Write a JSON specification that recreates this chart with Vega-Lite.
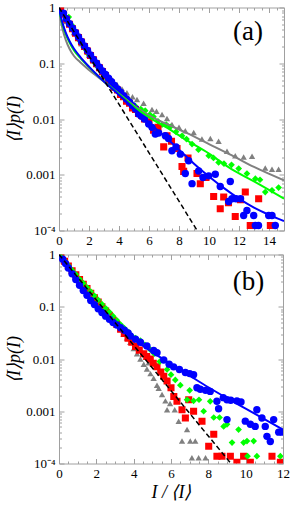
{
"$schema": "https://vega.github.io/schema/vega-lite/v6.json",
"padding": {"left": 5, "top": 0.5, "right": 2, "bottom": 2},
"spacing": -1,
"datasets": {
"pts": [
{"p":"a","s":"gray","x":0.5,"y":0.562},{"p":"a","s":"gray","x":1.0,"y":0.355},{"p":"a","s":"gray","x":1.5,"y":0.224},{"p":"a","s":"gray","x":2.0,"y":0.141},{"p":"a","s":"gray","x":2.5,"y":0.0955},{"p":"a","s":"gray","x":2.9,"y":0.0741},{"p":"a","s":"gray","x":3.2,"y":0.0603},{"p":"a","s":"gray","x":3.55,"y":0.0501},{"p":"a","s":"gray","x":3.87,"y":0.0417},{"p":"a","s":"gray","x":4.2,"y":0.0347},{"p":"a","s":"gray","x":4.53,"y":0.0295},{"p":"a","s":"gray","x":4.9,"y":0.0251},{"p":"a","s":"gray","x":5.2,"y":0.0224},{"p":"a","s":"gray","x":5.64,"y":0.0191},{"p":"a","s":"gray","x":6.2,"y":0.0148},{"p":"a","s":"gray","x":6.5,"y":0.0138},{"p":"a","s":"gray","x":6.87,"y":0.012},{"p":"a","s":"gray","x":7.2,"y":0.0102},{"p":"a","s":"gray","x":7.53,"y":0.00794},{"p":"a","s":"gray","x":8.0,"y":0.00708},{"p":"a","s":"gray","x":8.42,"y":0.00617},{"p":"a","s":"gray","x":8.98,"y":0.00575},{"p":"a","s":"gray","x":9.53,"y":0.00437},{"p":"a","s":"gray","x":10.09,"y":0.00447},{"p":"a","s":"gray","x":10.64,"y":0.00398},{"p":"a","s":"gray","x":11.2,"y":0.00263},{"p":"a","s":"gray","x":11.75,"y":0.00219},{"p":"a","s":"gray","x":12.31,"y":0.00209},{"p":"a","s":"gray","x":12.87,"y":0.00214},{"p":"a","s":"gray","x":13.75,"y":0.00132},{"p":"a","s":"gray","x":14.2,"y":0.00126},{"p":"a","s":"gray","x":14.64,"y":0.00126},
{"p":"a","s":"green","x":0.65,"y":0.676},{"p":"a","s":"green","x":0.9,"y":0.468},{"p":"a","s":"green","x":1.15,"y":0.331},{"p":"a","s":"green","x":1.4,"y":0.251},{"p":"a","s":"green","x":1.65,"y":0.191},{"p":"a","s":"green","x":1.95,"y":0.145},{"p":"a","s":"green","x":2.25,"y":0.11},{"p":"a","s":"green","x":2.6,"y":0.0851},{"p":"a","s":"green","x":2.9,"y":0.0661},{"p":"a","s":"green","x":3.2,"y":0.0525},{"p":"a","s":"green","x":3.5,"y":0.0427},{"p":"a","s":"green","x":3.8,"y":0.0339},{"p":"a","s":"green","x":4.1,"y":0.0282},{"p":"a","s":"green","x":4.4,"y":0.024},{"p":"a","s":"green","x":4.75,"y":0.0204},{"p":"a","s":"green","x":5.1,"y":0.017},{"p":"a","s":"green","x":5.45,"y":0.0151},{"p":"a","s":"green","x":5.75,"y":0.0141},{"p":"a","s":"green","x":6.05,"y":0.012},{"p":"a","s":"green","x":6.3,"y":0.011},{"p":"a","s":"green","x":6.6,"y":0.00912},{"p":"a","s":"green","x":6.87,"y":0.00794},{"p":"a","s":"green","x":7.15,"y":0.00794},{"p":"a","s":"green","x":7.42,"y":0.00724},{"p":"a","s":"green","x":7.8,"y":0.00589},{"p":"a","s":"green","x":8.2,"y":0.00501},{"p":"a","s":"green","x":8.5,"y":0.00437},{"p":"a","s":"green","x":8.87,"y":0.00355},{"p":"a","s":"green","x":9.3,"y":0.00282},{"p":"a","s":"green","x":9.98,"y":0.00219},{"p":"a","s":"green","x":10.3,"y":0.002},{"p":"a","s":"green","x":10.64,"y":0.00166},{"p":"a","s":"green","x":11.0,"y":0.00158},{"p":"a","s":"green","x":11.5,"y":0.00151},{"p":"a","s":"green","x":11.98,"y":0.00129},{"p":"a","s":"green","x":12.53,"y":0.00105},{"p":"a","s":"green","x":13.09,"y":0.000851},{"p":"a","s":"green","x":13.4,"y":0.000813},{"p":"a","s":"green","x":13.75,"y":0.00049},{"p":"a","s":"green","x":14.2,"y":0.000525},{"p":"a","s":"green","x":14.64,"y":0.000589},
{"p":"a","s":"red","x":0.1,"y":0.955},{"p":"a","s":"red","x":0.3,"y":0.759},{"p":"a","s":"red","x":0.5,"y":0.617},{"p":"a","s":"red","x":0.7,"y":0.501},{"p":"a","s":"red","x":0.9,"y":0.417},{"p":"a","s":"red","x":1.1,"y":0.347},{"p":"a","s":"red","x":1.3,"y":0.288},{"p":"a","s":"red","x":1.5,"y":0.24},{"p":"a","s":"red","x":1.7,"y":0.2},{"p":"a","s":"red","x":1.9,"y":0.166},{"p":"a","s":"red","x":2.1,"y":0.138},{"p":"a","s":"red","x":2.3,"y":0.115},{"p":"a","s":"red","x":2.5,"y":0.0977},{"p":"a","s":"red","x":2.7,"y":0.0832},{"p":"a","s":"red","x":2.9,"y":0.0708},{"p":"a","s":"red","x":3.1,"y":0.0603},{"p":"a","s":"red","x":3.3,"y":0.0501},{"p":"a","s":"red","x":3.5,"y":0.0437},{"p":"a","s":"red","x":3.7,"y":0.0372},{"p":"a","s":"red","x":3.9,"y":0.0331},{"p":"a","s":"red","x":4.1,"y":0.0275},{"p":"a","s":"red","x":4.3,"y":0.0251},{"p":"a","s":"red","x":4.5,"y":0.0209},{"p":"a","s":"red","x":4.7,"y":0.0191},{"p":"a","s":"red","x":4.9,"y":0.0158},{"p":"a","s":"red","x":5.1,"y":0.0148},{"p":"a","s":"red","x":5.3,"y":0.0126},{"p":"a","s":"red","x":5.5,"y":0.0117},{"p":"a","s":"red","x":5.7,"y":0.01},{"p":"a","s":"red","x":6.0,"y":0.00891},{"p":"a","s":"red","x":6.3,"y":0.00631},{"p":"a","s":"red","x":6.6,"y":0.00708},{"p":"a","s":"red","x":6.98,"y":0.00316},{"p":"a","s":"red","x":7.2,"y":0.00501},{"p":"a","s":"red","x":7.5,"y":0.00398},{"p":"a","s":"red","x":7.87,"y":0.00295},{"p":"a","s":"red","x":8.2,"y":0.00141},{"p":"a","s":"red","x":8.31,"y":0.00115},{"p":"a","s":"red","x":8.6,"y":0.002},{"p":"a","s":"red","x":9.2,"y":0.00105},{"p":"a","s":"red","x":9.42,"y":0.000692},{"p":"a","s":"red","x":9.8,"y":0.000891},{"p":"a","s":"red","x":10.31,"y":0.000407},{"p":"a","s":"red","x":10.75,"y":0.000245},{"p":"a","s":"red","x":10.98,"y":0.000398},{"p":"a","s":"red","x":11.3,"y":0.000316},{"p":"a","s":"red","x":11.75,"y":0.000178},{"p":"a","s":"red","x":12.1,"y":0.000355},{"p":"a","s":"red","x":12.42,"y":0.00049},{"p":"a","s":"red","x":12.75,"y":0.000123},{"p":"a","s":"red","x":13.31,"y":0.000372},{"p":"a","s":"red","x":14.09,"y":0.000123},
{"p":"a","s":"blue","x":0.3,"y":0.794},{"p":"a","s":"blue","x":0.5,"y":0.631},{"p":"a","s":"blue","x":0.7,"y":0.513},{"p":"a","s":"blue","x":0.9,"y":0.427},{"p":"a","s":"blue","x":1.1,"y":0.355},{"p":"a","s":"blue","x":1.3,"y":0.295},{"p":"a","s":"blue","x":1.5,"y":0.245},{"p":"a","s":"blue","x":1.7,"y":0.204},{"p":"a","s":"blue","x":1.9,"y":0.17},{"p":"a","s":"blue","x":2.1,"y":0.141},{"p":"a","s":"blue","x":2.3,"y":0.117},{"p":"a","s":"blue","x":2.5,"y":0.1},{"p":"a","s":"blue","x":2.7,"y":0.0851},{"p":"a","s":"blue","x":2.9,"y":0.0724},{"p":"a","s":"blue","x":3.1,"y":0.0631},{"p":"a","s":"blue","x":3.3,"y":0.0537},{"p":"a","s":"blue","x":3.5,"y":0.0468},{"p":"a","s":"blue","x":3.7,"y":0.0398},{"p":"a","s":"blue","x":3.9,"y":0.0347},{"p":"a","s":"blue","x":4.1,"y":0.0302},{"p":"a","s":"blue","x":4.3,"y":0.0263},{"p":"a","s":"blue","x":4.5,"y":0.0229},{"p":"a","s":"blue","x":4.7,"y":0.02},{"p":"a","s":"blue","x":4.9,"y":0.0174},{"p":"a","s":"blue","x":5.1,"y":0.0151},{"p":"a","s":"blue","x":5.31,"y":0.0123},{"p":"a","s":"blue","x":5.5,"y":0.0112},{"p":"a","s":"blue","x":5.7,"y":0.01},{"p":"a","s":"blue","x":5.98,"y":0.00813},{"p":"a","s":"blue","x":6.2,"y":0.00708},{"p":"a","s":"blue","x":6.42,"y":0.00537},{"p":"a","s":"blue","x":6.64,"y":0.00562},{"p":"a","s":"blue","x":7.09,"y":0.00501},{"p":"a","s":"blue","x":7.3,"y":0.00447},{"p":"a","s":"blue","x":7.53,"y":0.00269},{"p":"a","s":"blue","x":7.8,"y":0.00316},{"p":"a","s":"blue","x":8.09,"y":0.00234},{"p":"a","s":"blue","x":8.42,"y":0.00105},{"p":"a","s":"blue","x":8.64,"y":0.00178},{"p":"a","s":"blue","x":8.87,"y":0.000692},{"p":"a","s":"blue","x":9.31,"y":0.00117},{"p":"a","s":"blue","x":9.6,"y":0.000891},{"p":"a","s":"blue","x":9.98,"y":0.000955},{"p":"a","s":"blue","x":10.42,"y":0.00102},{"p":"a","s":"blue","x":10.75,"y":0.000617},{"p":"a","s":"blue","x":11.31,"y":0.000331},{"p":"a","s":"blue","x":11.42,"y":0.000759},{"p":"a","s":"blue","x":11.53,"y":0.000372},{"p":"a","s":"blue","x":11.8,"y":0.000372},{"p":"a","s":"blue","x":12.1,"y":0.000372},{"p":"a","s":"blue","x":12.31,"y":0.000186},{"p":"a","s":"blue","x":12.53,"y":0.000229},{"p":"a","s":"blue","x":12.98,"y":0.000186},{"p":"a","s":"blue","x":13.09,"y":0.000123},{"p":"a","s":"blue","x":13.3,"y":0.000123},{"p":"a","s":"blue","x":13.98,"y":0.000186},{"p":"a","s":"blue","x":14.2,"y":0.000186},{"p":"a","s":"blue","x":14.42,"y":0.000123},
{"p":"b","s":"gray","x":0.1,"y":0.891},{"p":"b","s":"gray","x":0.3,"y":0.724},{"p":"b","s":"gray","x":0.5,"y":0.603},{"p":"b","s":"gray","x":0.7,"y":0.49},{"p":"b","s":"gray","x":0.9,"y":0.407},{"p":"b","s":"gray","x":1.1,"y":0.331},{"p":"b","s":"gray","x":1.3,"y":0.275},{"p":"b","s":"gray","x":1.5,"y":0.224},{"p":"b","s":"gray","x":1.7,"y":0.186},{"p":"b","s":"gray","x":1.9,"y":0.151},{"p":"b","s":"gray","x":2.1,"y":0.126},{"p":"b","s":"gray","x":2.3,"y":0.102},{"p":"b","s":"gray","x":2.5,"y":0.0851},{"p":"b","s":"gray","x":2.7,"y":0.0692},{"p":"b","s":"gray","x":2.9,"y":0.0562},{"p":"b","s":"gray","x":3.1,"y":0.0457},{"p":"b","s":"gray","x":3.3,"y":0.0372},{"p":"b","s":"gray","x":3.46,"y":0.0302},{"p":"b","s":"gray","x":3.64,"y":0.0251},{"p":"b","s":"gray","x":3.82,"y":0.0209},{"p":"b","s":"gray","x":4.0,"y":0.0158},{"p":"b","s":"gray","x":4.18,"y":0.0126},{"p":"b","s":"gray","x":4.36,"y":0.01},{"p":"b","s":"gray","x":4.54,"y":0.00794},{"p":"b","s":"gray","x":4.71,"y":0.00646},{"p":"b","s":"gray","x":4.8,"y":0.00851},{"p":"b","s":"gray","x":4.9,"y":0.00525},{"p":"b","s":"gray","x":5.07,"y":0.00427},{"p":"b","s":"gray","x":5.25,"y":0.00316},{"p":"b","s":"gray","x":5.34,"y":0.00275},{"p":"b","s":"gray","x":5.52,"y":0.00209},{"p":"b","s":"gray","x":5.7,"y":0.00158},{"p":"b","s":"gray","x":5.79,"y":0.00107},{"p":"b","s":"gray","x":5.95,"y":0.00141},{"p":"b","s":"gray","x":6.2,"y":0.00107},{"p":"b","s":"gray","x":6.41,"y":0.000646},{"p":"b","s":"gray","x":6.59,"y":0.000269},{"p":"b","s":"gray","x":6.86,"y":0.000447},{"p":"b","s":"gray","x":7.03,"y":0.000269},{"p":"b","s":"gray","x":7.3,"y":0.000269},{"p":"b","s":"gray","x":7.12,"y":0.000129},{"p":"b","s":"gray","x":7.48,"y":0.000129},{"p":"b","s":"gray","x":7.85,"y":0.000129},
{"p":"b","s":"red","x":0.1,"y":0.912},{"p":"b","s":"red","x":0.3,"y":0.741},{"p":"b","s":"red","x":0.5,"y":0.603},{"p":"b","s":"red","x":0.7,"y":0.49},{"p":"b","s":"red","x":0.9,"y":0.407},{"p":"b","s":"red","x":1.1,"y":0.331},{"p":"b","s":"red","x":1.3,"y":0.269},{"p":"b","s":"red","x":1.5,"y":0.224},{"p":"b","s":"red","x":1.7,"y":0.182},{"p":"b","s":"red","x":1.9,"y":0.148},{"p":"b","s":"red","x":2.1,"y":0.123},{"p":"b","s":"red","x":2.3,"y":0.1},{"p":"b","s":"red","x":2.5,"y":0.0832},{"p":"b","s":"red","x":2.7,"y":0.0676},{"p":"b","s":"red","x":2.9,"y":0.055},{"p":"b","s":"red","x":3.1,"y":0.0457},{"p":"b","s":"red","x":3.3,"y":0.0372},{"p":"b","s":"red","x":3.5,"y":0.0309},{"p":"b","s":"red","x":3.7,"y":0.0251},{"p":"b","s":"red","x":3.9,"y":0.0209},{"p":"b","s":"red","x":4.1,"y":0.0174},{"p":"b","s":"red","x":4.3,"y":0.0148},{"p":"b","s":"red","x":4.54,"y":0.0126},{"p":"b","s":"red","x":4.7,"y":0.0112},{"p":"b","s":"red","x":4.89,"y":0.01},{"p":"b","s":"red","x":5.05,"y":0.00832},{"p":"b","s":"red","x":5.25,"y":0.00708},{"p":"b","s":"red","x":5.45,"y":0.00562},{"p":"b","s":"red","x":5.61,"y":0.00468},{"p":"b","s":"red","x":5.79,"y":0.0038},{"p":"b","s":"red","x":6.0,"y":0.00282},{"p":"b","s":"red","x":6.15,"y":0.00191},{"p":"b","s":"red","x":6.32,"y":0.00155},{"p":"b","s":"red","x":6.59,"y":0.00107},{"p":"b","s":"red","x":6.77,"y":0.000741},{"p":"b","s":"red","x":6.95,"y":0.00166},{"p":"b","s":"red","x":7.21,"y":0.001},{"p":"b","s":"red","x":7.66,"y":0.000646},{"p":"b","s":"red","x":8.02,"y":0.000214},{"p":"b","s":"red","x":8.29,"y":0.000363},{"p":"b","s":"red","x":8.46,"y":0.000138},{"p":"b","s":"red","x":8.73,"y":0.000138},{"p":"b","s":"red","x":9.18,"y":0.000138},{"p":"b","s":"red","x":9.53,"y":0.000105},{"p":"b","s":"red","x":9.89,"y":0.000138},{"p":"b","s":"red","x":10.25,"y":0.000105},{"p":"b","s":"red","x":11.41,"y":0.000138},{"p":"b","s":"red","x":11.86,"y":0.000105},
{"p":"b","s":"green","x":0.1,"y":0.912},{"p":"b","s":"green","x":0.3,"y":0.759},{"p":"b","s":"green","x":0.5,"y":0.617},{"p":"b","s":"green","x":0.7,"y":0.501},{"p":"b","s":"green","x":0.9,"y":0.417},{"p":"b","s":"green","x":1.1,"y":0.339},{"p":"b","s":"green","x":1.3,"y":0.282},{"p":"b","s":"green","x":1.5,"y":0.234},{"p":"b","s":"green","x":1.7,"y":0.195},{"p":"b","s":"green","x":1.9,"y":0.162},{"p":"b","s":"green","x":2.1,"y":0.135},{"p":"b","s":"green","x":2.3,"y":0.112},{"p":"b","s":"green","x":2.5,"y":0.0933},{"p":"b","s":"green","x":2.7,"y":0.0794},{"p":"b","s":"green","x":2.9,"y":0.0661},{"p":"b","s":"green","x":3.1,"y":0.055},{"p":"b","s":"green","x":3.3,"y":0.0457},{"p":"b","s":"green","x":3.5,"y":0.0389},{"p":"b","s":"green","x":3.7,"y":0.0331},{"p":"b","s":"green","x":3.9,"y":0.0275},{"p":"b","s":"green","x":4.1,"y":0.0251},{"p":"b","s":"green","x":4.36,"y":0.0224},{"p":"b","s":"green","x":4.6,"y":0.0186},{"p":"b","s":"green","x":4.89,"y":0.0151},{"p":"b","s":"green","x":5.1,"y":0.0126},{"p":"b","s":"green","x":5.4,"y":0.00891},{"p":"b","s":"green","x":5.79,"y":0.00631},{"p":"b","s":"green","x":6.0,"y":0.00501},{"p":"b","s":"green","x":6.23,"y":0.00398},{"p":"b","s":"green","x":6.5,"y":0.00316},{"p":"b","s":"green","x":6.86,"y":0.00166},{"p":"b","s":"green","x":7.0,"y":0.00251},{"p":"b","s":"green","x":7.21,"y":0.00158},{"p":"b","s":"green","x":7.5,"y":0.00166},{"p":"b","s":"green","x":7.75,"y":0.001},{"p":"b","s":"green","x":8.1,"y":0.00155},{"p":"b","s":"green","x":8.29,"y":0.000759},{"p":"b","s":"green","x":8.6,"y":0.000759},{"p":"b","s":"green","x":8.82,"y":0.000513},{"p":"b","s":"green","x":9.0,"y":0.000562},{"p":"b","s":"green","x":9.27,"y":0.000251},{"p":"b","s":"green","x":9.62,"y":0.000447},{"p":"b","s":"green","x":9.89,"y":0.000251},{"p":"b","s":"green","x":10.07,"y":0.000269},{"p":"b","s":"green","x":10.43,"y":0.000269},{"p":"b","s":"green","x":10.1,"y":0.000138},{"p":"b","s":"green","x":10.6,"y":0.000138},{"p":"b","s":"green","x":11.86,"y":0.000138},
{"p":"b","s":"blue","x":0.2,"y":0.813},{"p":"b","s":"blue","x":0.35,"y":0.676},{"p":"b","s":"blue","x":0.5,"y":0.55},{"p":"b","s":"blue","x":0.7,"y":0.427},{"p":"b","s":"blue","x":0.9,"y":0.331},{"p":"b","s":"blue","x":1.1,"y":0.257},{"p":"b","s":"blue","x":1.3,"y":0.204},{"p":"b","s":"blue","x":1.5,"y":0.166},{"p":"b","s":"blue","x":1.7,"y":0.132},{"p":"b","s":"blue","x":1.9,"y":0.11},{"p":"b","s":"blue","x":2.1,"y":0.0912},{"p":"b","s":"blue","x":2.3,"y":0.0776},{"p":"b","s":"blue","x":2.5,"y":0.0661},{"p":"b","s":"blue","x":2.7,"y":0.0575},{"p":"b","s":"blue","x":2.9,"y":0.0501},{"p":"b","s":"blue","x":3.1,"y":0.0447},{"p":"b","s":"blue","x":3.3,"y":0.0398},{"p":"b","s":"blue","x":3.5,"y":0.0355},{"p":"b","s":"blue","x":3.7,"y":0.0316},{"p":"b","s":"blue","x":3.82,"y":0.0275},{"p":"b","s":"blue","x":4.1,"y":0.024},{"p":"b","s":"blue","x":4.36,"y":0.0209},{"p":"b","s":"blue","x":4.71,"y":0.0178},{"p":"b","s":"blue","x":5.07,"y":0.0145},{"p":"b","s":"blue","x":5.25,"y":0.0132},{"p":"b","s":"blue","x":5.61,"y":0.00955},{"p":"b","s":"blue","x":5.9,"y":0.00794},{"p":"b","s":"blue","x":6.14,"y":0.00708},{"p":"b","s":"blue","x":6.45,"y":0.00631},{"p":"b","s":"blue","x":6.77,"y":0.0055},{"p":"b","s":"blue","x":7.0,"y":0.00525},{"p":"b","s":"blue","x":7.21,"y":0.00501},{"p":"b","s":"blue","x":7.39,"y":0.00282},{"p":"b","s":"blue","x":7.57,"y":0.00263},{"p":"b","s":"blue","x":7.85,"y":0.00251},{"p":"b","s":"blue","x":8.1,"y":0.0024},{"p":"b","s":"blue","x":8.46,"y":0.00155},{"p":"b","s":"blue","x":8.55,"y":0.00112},{"p":"b","s":"blue","x":8.8,"y":0.00182},{"p":"b","s":"blue","x":9.0,"y":0.00166},{"p":"b","s":"blue","x":9.2,"y":0.00162},{"p":"b","s":"blue","x":9.53,"y":0.00158},{"p":"b","s":"blue","x":9.75,"y":0.00151},{"p":"b","s":"blue","x":9.0,"y":0.000692},{"p":"b","s":"blue","x":9.98,"y":0.000646},{"p":"b","s":"blue","x":10.25,"y":0.000562},{"p":"b","s":"blue","x":10.51,"y":0.000513},{"p":"b","s":"blue","x":10.6,"y":0.00107},{"p":"b","s":"blue","x":10.87,"y":0.000741},{"p":"b","s":"blue","x":11.05,"y":0.000513},{"p":"b","s":"blue","x":11.14,"y":0.000331},{"p":"b","s":"blue","x":11.32,"y":0.000263},{"p":"b","s":"blue","x":11.5,"y":0.000692},{"p":"b","s":"blue","x":11.77,"y":0.000398},{"p":"b","s":"blue","x":11.95,"y":0.000398}
],
"curves": [
{"p":"a","s":"gray","x":0,"y":1},{"p":"a","s":"gray","x":0.1,"y":0.631},{"p":"a","s":"gray","x":0.25,"y":0.398},{"p":"a","s":"gray","x":0.45,"y":0.263},{"p":"a","s":"gray","x":0.7,"y":0.182},{"p":"a","s":"gray","x":1.0,"y":0.135},{"p":"a","s":"gray","x":1.4,"y":0.105},{"p":"a","s":"gray","x":2.0,"y":0.0759},{"p":"a","s":"gray","x":2.7,"y":0.0537},{"p":"a","s":"gray","x":3.5,"y":0.0363},{"p":"a","s":"gray","x":4.3,"y":0.0245},{"p":"a","s":"gray","x":5.2,"y":0.0158},{"p":"a","s":"gray","x":6.3,"y":0.0105},{"p":"a","s":"gray","x":7.1,"y":0.00832},{"p":"a","s":"gray","x":8.5,"y":0.00562},{"p":"a","s":"gray","x":10.0,"y":0.00355},{"p":"a","s":"gray","x":11.5,"y":0.00224},{"p":"a","s":"gray","x":13.0,"y":0.00138},{"p":"a","s":"gray","x":15.0,"y":0.000794},
{"p":"a","s":"green","x":0,"y":1},{"p":"a","s":"green","x":0.1,"y":0.692},{"p":"a","s":"green","x":0.25,"y":0.479},{"p":"a","s":"green","x":0.45,"y":0.331},{"p":"a","s":"green","x":0.7,"y":0.234},{"p":"a","s":"green","x":1.0,"y":0.17},{"p":"a","s":"green","x":1.4,"y":0.126},{"p":"a","s":"green","x":2.0,"y":0.0851},{"p":"a","s":"green","x":2.7,"y":0.0562},{"p":"a","s":"green","x":3.5,"y":0.0363},{"p":"a","s":"green","x":4.3,"y":0.024},{"p":"a","s":"green","x":5.2,"y":0.0151},{"p":"a","s":"green","x":6.3,"y":0.00955},{"p":"a","s":"green","x":7.1,"y":0.00724},{"p":"a","s":"green","x":8.5,"y":0.00417},{"p":"a","s":"green","x":10.0,"y":0.0024},{"p":"a","s":"green","x":11.5,"y":0.00126},{"p":"a","s":"green","x":13.0,"y":0.000759},{"p":"a","s":"green","x":15.0,"y":0.000372},
{"p":"a","s":"blue","x":0,"y":1},{"p":"a","s":"blue","x":0.1,"y":0.724},{"p":"a","s":"blue","x":0.25,"y":0.513},{"p":"a","s":"blue","x":0.45,"y":0.355},{"p":"a","s":"blue","x":0.7,"y":0.251},{"p":"a","s":"blue","x":1.0,"y":0.182},{"p":"a","s":"blue","x":1.4,"y":0.132},{"p":"a","s":"blue","x":2.0,"y":0.0871},{"p":"a","s":"blue","x":2.7,"y":0.0562},{"p":"a","s":"blue","x":3.5,"y":0.0355},{"p":"a","s":"blue","x":4.3,"y":0.0229},{"p":"a","s":"blue","x":5.0,"y":0.0155},{"p":"a","s":"blue","x":6.0,"y":0.00851},{"p":"a","s":"blue","x":7.0,"y":0.00501},{"p":"a","s":"blue","x":8.0,"y":0.00282},{"p":"a","s":"blue","x":9.0,"y":0.00158},{"p":"a","s":"blue","x":10.0,"y":0.000933},{"p":"a","s":"blue","x":11.0,"y":0.000575},{"p":"a","s":"blue","x":12.0,"y":0.000372},{"p":"a","s":"blue","x":13.0,"y":0.000257},{"p":"a","s":"blue","x":14.0,"y":0.000191},{"p":"a","s":"blue","x":15.0,"y":0.000148},
{"p":"b","s":"blue","x":0,"y":1},{"p":"b","s":"blue","x":0.5,"y":0.513},{"p":"b","s":"blue","x":1.0,"y":0.282},{"p":"b","s":"blue","x":1.5,"y":0.162},{"p":"b","s":"blue","x":2.0,"y":0.1},{"p":"b","s":"blue","x":2.5,"y":0.0661},{"p":"b","s":"blue","x":3.0,"y":0.0447},{"p":"b","s":"blue","x":4.0,"y":0.024},{"p":"b","s":"blue","x":5.0,"y":0.0135},{"p":"b","s":"blue","x":6.0,"y":0.00794},{"p":"b","s":"blue","x":7.0,"y":0.00479},{"p":"b","s":"blue","x":8.0,"y":0.00288},{"p":"b","s":"blue","x":9.0,"y":0.00178},{"p":"b","s":"blue","x":10.0,"y":0.00112},{"p":"b","s":"blue","x":11.0,"y":0.000708},{"p":"b","s":"blue","x":12.0,"y":0.000447}
],
"dash": [
{"p":"a","x":0,"y":1},{"p":"a","x":9.21,"y":0.0001},
{"p":"b","x":0,"y":1},{"p":"b","x":9.21,"y":0.0001}
],
"labels": [
{"p":"a","x":12.6,"y":0.358,"t":"(a)"},
{"p":"b","x":10.15,"y":0.304,"t":"(b)"}
]
},
"vconcat": [
{
"width": 225, "height": 223,
"layer": [
{"data":{"name":"pts"},"transform":[{"filter":"datum.p==='a'"}],
 "mark":{"type":"point","filled":true,"opacity":1,"clip":true,"strokeWidth":0},
 "encoding":{
  "x":{"field":"x","type":"quantitative","scale":{"domain":[0,15],"nice":false,"zero":false},"axis":{"orient":"bottom","values":[0,2,4,6,8,10,12,14],"tickSize":-5,"labelPadding":9,"format":"d","title":null}},
  "y":{"field":"y","type":"quantitative","scale":{"type":"log","domain":[0.0001,1],"nice":false},"axis":{"orient":"left","values":[0.0001,0.001,0.01,0.1,1],"tickSize":-5,"labelPadding":9,"titlePadding":2,"labelExpr":"datum.value > 0.5 ? '1' : datum.value > 0.05 ? '0.1' : datum.value > 0.005 ? '0.01' : datum.value > 0.0005 ? '0.001' : '10⁻⁴'","title":"⟨I⟩p(I)"}},
  "shape":{"field":"s","type":"nominal","scale":{"domain":["gray","green","red","blue"],"range":["triangle-up","diamond","square","circle"]},"legend":null},
  "color":{"field":"s","type":"nominal","scale":{"domain":["gray","green","red","blue"],"range":["#808080","#00ff00","#ff0000","#0000ff"]},"legend":null},
  "size":{"field":"s","type":"nominal","scale":{"domain":["gray","green","red","blue"],"range":[40,55,40,44]},"legend":null}
 }},
{"data":{"name":"curves"},"transform":[{"filter":"datum.p==='a'"}],
 "mark":{"type":"line","interpolate":"monotone","strokeWidth":2,"clip":true},
 "encoding":{
  "x":{"field":"x","type":"quantitative","axis":{"orient":"top","values":[0,2,4,6,8,10,12,14],"tickSize":-5,"labels":false,"title":null}},
  "y":{"field":"y","type":"quantitative","axis":{"orient":"right","values":[0.0001,0.001,0.01,0.1,1],"tickSize":-5,"labels":false,"title":null}},
  "color":{"field":"s","type":"nominal","legend":null}
 }},
{"data":{"name":"dash"},"transform":[{"filter":"datum.p==='a'"}],
 "mark":{"type":"line","color":"#000000","strokeDash":[5,3],"strokeWidth":1.5,"clip":true},
 "encoding":{
  "x":{"field":"x","type":"quantitative","axis":{"orient":"bottom","values":[0.5,1,1.5,2.5,3,3.5,4.5,5,5.5,6.5,7,7.5,8.5,9,9.5,10.5,11,11.5,12.5,13,13.5,14.5],"tickSize":-2.5,"labels":false,"title":null}},
  "y":{"field":"y","type":"quantitative","axis":{"orient":"left","values":[0.0002,0.0003,0.0004,0.0005,0.0006,0.0007,0.0008,0.0009,0.002,0.003,0.004,0.005,0.006,0.007,0.008,0.009,0.02,0.03,0.04,0.05,0.06,0.07,0.08,0.09,0.2,0.3,0.4,0.5,0.6,0.7,0.8,0.9],"tickSize":-2.5,"labels":false,"title":null}}
 }},
{"data":{"name":"labels"},"transform":[{"filter":"datum.p==='a'"}],
 "mark":{"type":"text","font":"Liberation Serif","fontSize":27,"align":"center","baseline":"middle","color":"#000000"},
 "encoding":{
  "x":{"field":"x","type":"quantitative","axis":{"orient":"top","values":[0.5,1,1.5,2.5,3,3.5,4.5,5,5.5,6.5,7,7.5,8.5,9,9.5,10.5,11,11.5,12.5,13,13.5,14.5],"tickSize":-2.5,"labels":false,"title":null}},
  "y":{"field":"y","type":"quantitative","axis":{"orient":"right","values":[0.0002,0.0003,0.0004,0.0005,0.0006,0.0007,0.0008,0.0009,0.002,0.003,0.004,0.005,0.006,0.007,0.008,0.009,0.02,0.03,0.04,0.05,0.06,0.07,0.08,0.09,0.2,0.3,0.4,0.5,0.6,0.7,0.8,0.9],"tickSize":-2.5,"labels":false,"title":null}},
  "text":{"field":"t"}
 }}
],
"resolve":{"axis":{"x":"independent","y":"independent"}}
},
{
"width": 224, "height": 209,
"layer": [
{"data":{"name":"pts"},"transform":[{"filter":"datum.p==='b'"}],
 "mark":{"type":"point","filled":true,"opacity":1,"clip":true,"strokeWidth":0},
 "encoding":{
  "x":{"field":"x","type":"quantitative","scale":{"domain":[0,12],"nice":false,"zero":false},"axis":{"orient":"bottom","values":[0,2,4,6,8,10,12],"tickSize":-5,"labelPadding":9,"format":"d","title":"I / ⟨I⟩","titlePadding":3}},
  "y":{"field":"y","type":"quantitative","scale":{"type":"log","domain":[0.0001,1],"nice":false},"axis":{"orient":"left","values":[0.0001,0.001,0.01,0.1,1],"tickSize":-5,"labelPadding":9,"titlePadding":2,"labelExpr":"datum.value > 0.5 ? '1' : datum.value > 0.05 ? '0.1' : datum.value > 0.005 ? '0.01' : datum.value > 0.0005 ? '0.001' : '10⁻⁴'","title":"⟨I⟩p(I)"}},
  "shape":{"field":"s","type":"nominal","scale":{"domain":["gray","green","red","blue"],"range":["triangle-up","diamond","square","circle"]},"legend":null},
  "color":{"field":"s","type":"nominal","scale":{"domain":["gray","green","red","blue"],"range":["#808080","#00ff00","#ff0000","#0000ff"]},"legend":null},
  "size":{"field":"s","type":"nominal","scale":{"domain":["gray","green","red","blue"],"range":[40,55,40,44]},"legend":null}
 }},
{"data":{"name":"curves"},"transform":[{"filter":"datum.p==='b'"}],
 "mark":{"type":"line","interpolate":"monotone","strokeWidth":2,"clip":true},
 "encoding":{
  "x":{"field":"x","type":"quantitative","axis":{"orient":"top","values":[0,2,4,6,8,10,12],"tickSize":-5,"labels":false,"title":null}},
  "y":{"field":"y","type":"quantitative","axis":{"orient":"right","values":[0.0001,0.001,0.01,0.1,1],"tickSize":-5,"labels":false,"title":null}},
  "color":{"field":"s","type":"nominal","legend":null}
 }},
{"data":{"name":"dash"},"transform":[{"filter":"datum.p==='b'"}],
 "mark":{"type":"line","color":"#000000","strokeDash":[5,3],"strokeWidth":1.5,"clip":true},
 "encoding":{
  "x":{"field":"x","type":"quantitative","axis":{"orient":"bottom","values":[0.5,1,1.5,2.5,3,3.5,4.5,5,5.5,6.5,7,7.5,8.5,9,9.5,10.5,11,11.5],"tickSize":-2.5,"labels":false,"title":null}},
  "y":{"field":"y","type":"quantitative","axis":{"orient":"left","values":[0.0002,0.0003,0.0004,0.0005,0.0006,0.0007,0.0008,0.0009,0.002,0.003,0.004,0.005,0.006,0.007,0.008,0.009,0.02,0.03,0.04,0.05,0.06,0.07,0.08,0.09,0.2,0.3,0.4,0.5,0.6,0.7,0.8,0.9],"tickSize":-2.5,"labels":false,"title":null}}
 }},
{"data":{"name":"labels"},"transform":[{"filter":"datum.p==='b'"}],
 "mark":{"type":"text","font":"Liberation Serif","fontSize":27,"align":"center","baseline":"middle","color":"#000000"},
 "encoding":{
  "x":{"field":"x","type":"quantitative","axis":{"orient":"top","values":[0.5,1,1.5,2.5,3,3.5,4.5,5,5.5,6.5,7,7.5,8.5,9,9.5,10.5,11,11.5],"tickSize":-2.5,"labels":false,"title":null}},
  "y":{"field":"y","type":"quantitative","axis":{"orient":"right","values":[0.0002,0.0003,0.0004,0.0005,0.0006,0.0007,0.0008,0.0009,0.002,0.003,0.004,0.005,0.006,0.007,0.008,0.009,0.02,0.03,0.04,0.05,0.06,0.07,0.08,0.09,0.2,0.3,0.4,0.5,0.6,0.7,0.8,0.9],"tickSize":-2.5,"labels":false,"title":null}},
  "text":{"field":"t"}
 }}
],
"resolve":{"axis":{"x":"independent","y":"independent"}}
}
],
"config": {
"font": "Liberation Serif",
"view": {"stroke": "#a0a0a0", "strokeWidth": 1},
"axis": {"domain": false, "grid": false, "tickColor": "#a0a0a0", "tickWidth": 1, "labelFont": "Liberation Serif", "labelFontSize": 13, "labelColor": "#000000", "labelFlush": false, "labelOverlap": false, "labelBound": false, "titleFont": "Liberation Serif", "titleFontSize": 18, "titleFontStyle": "italic", "titleFontWeight": "normal", "titleColor": "#000000"}
}
}
